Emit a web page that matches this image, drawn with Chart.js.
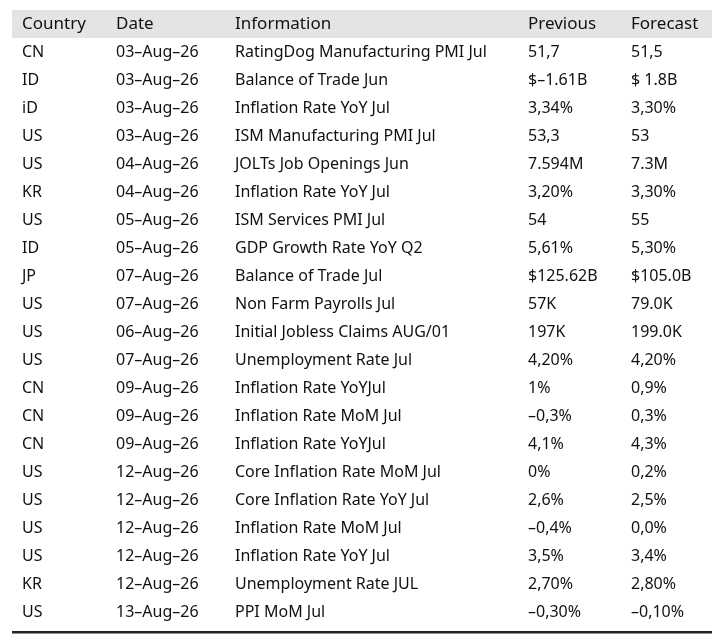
<!DOCTYPE html>
<html>
<head>
<meta charset="utf-8">
<script src="https://cdn.jsdelivr.net/npm/chart.js"></script>
<style>
  html, body { margin: 0; padding: 0; background: #fff; }
  #wrap { width: 720px; height: 644px; }
</style>
</head>
<body>
<div id="wrap"><canvas id="tabel"></canvas></div>
<script>
const headers = ["Country", "Date", "Information", "Previous", "Forecast"];
const countries = ["CN","ID","iD","US","US","KR","US","ID","JP","US","US","US","CN","CN","CN","US","US","US","US","KR","US"];
const dates = ["03-Aug-26","03-Aug-26","03-Aug-26","03-Aug-26","04-Aug-26","04-Aug-26","05-Aug-26","05-Aug-26","07-Aug-26","07-Aug-26","06-Aug-26","07-Aug-26","09-Aug-26","09-Aug-26","09-Aug-26","12-Aug-26","12-Aug-26","12-Aug-26","12-Aug-26","12-Aug-26","13-Aug-26"];
const infos = ["RatingDog Manufacturing PMI Jul","Balance of Trade Jun","Inflation Rate YoY Jul","ISM Manufacturing PMI Jul","JOLTs Job Openings Jun","Inflation Rate YoY Jul","ISM Services PMI Jul","GDP Growth Rate YoY Q2","Balance of Trade Jul","Non Farm Payrolls Jul","Initial Jobless Claims AUG/01","Unemployment Rate Jul","Inflation Rate YoYJul","Inflation Rate MoM Jul","Inflation Rate YoYJul","Core Inflation Rate MoM Jul","Core Inflation Rate YoY Jul","Inflation Rate MoM Jul","Inflation Rate YoY Jul","Unemployment Rate JUL","PPI MoM Jul"];
const previous = ["51,7","$-1.61B","3,34%","53,3","7.594M","3,20%","54","5,61%","$125.62B","57K","197K","4,20%","1%","-0,3%","4,1%","0%","2,6%","-0,4%","3,5%","2,70%","-0,30%"];
const forecast = ["51,5","$ 1.8B","3,30%","53","7.3M","3,30%","55","5,30%","$105.0B","79.0K","199.0K","4,20%","0,9%","0,3%","4,3%","0,2%","2,5%","0,0%","3,4%","2,80%","-0,10%"];

// layout: left edge of each column in pixels (x scale runs 0..720)
const colLeft = [22, 116, 235, 528, 631];

const columns = [countries, dates, infos, previous, forecast];

const tablePlugin = {
  id: 'tablePlugin',
  afterDraw(chart) {
    const { ctx, scales: { x, y } } = chart;
    ctx.save();
    // header band
    const hTop = y.getPixelForValue(-0.5), hBot = y.getPixelForValue(0.5);
    ctx.fillStyle = '#e4e4e4';
    ctx.fillRect(x.getPixelForValue(12), hTop, x.getPixelForValue(712) - x.getPixelForValue(12), hBot - hTop);
    ctx.textBaseline = 'middle';
    ctx.fillStyle = '#111';
    ctx.font = '17px "Noto Sans", sans-serif';
    headers.forEach((h, c) => ctx.fillText(h, x.getPixelForValue(colLeft[c]), y.getPixelForValue(0)));
    ctx.font = '16px "Noto Sans", sans-serif';
    columns.forEach((col, c) => {
      col.forEach((txt, r) => {
        ctx.fillText(txt.replace(/-/g, '\u2013'), x.getPixelForValue(colLeft[c]), y.getPixelForValue(r + 1));
      });
    });
    // bottom rule
    ctx.strokeStyle = '#222';
    ctx.lineWidth = 2.5;
    const yb = y.getPixelForValue(21.72);
    ctx.beginPath();
    ctx.moveTo(x.getPixelForValue(12), yb);
    ctx.lineTo(x.getPixelForValue(712), yb);
    ctx.stroke();
    ctx.restore();
  }
};

new Chart(document.getElementById('tabel'), {
  type: 'scatter',
  data: {
    datasets: [{
      data: countries.map((_, i) => ({ x: colLeft[0], y: i + 1 })),
      pointRadius: 0
    }]
  },
  options: {
    responsive: true,
    maintainAspectRatio: false,
    animation: false,
    layout: { padding: 0 },
    plugins: { legend: { display: false }, tooltip: { enabled: false } },
    scales: {
      x: { type: 'linear', min: 0, max: 720, display: false },
      y: { type: 'linear', min: -24 / 28, max: 620 / 28, reverse: true, display: false }
    }
  },
  plugins: [tablePlugin]
});
</script>
</body>
</html>
